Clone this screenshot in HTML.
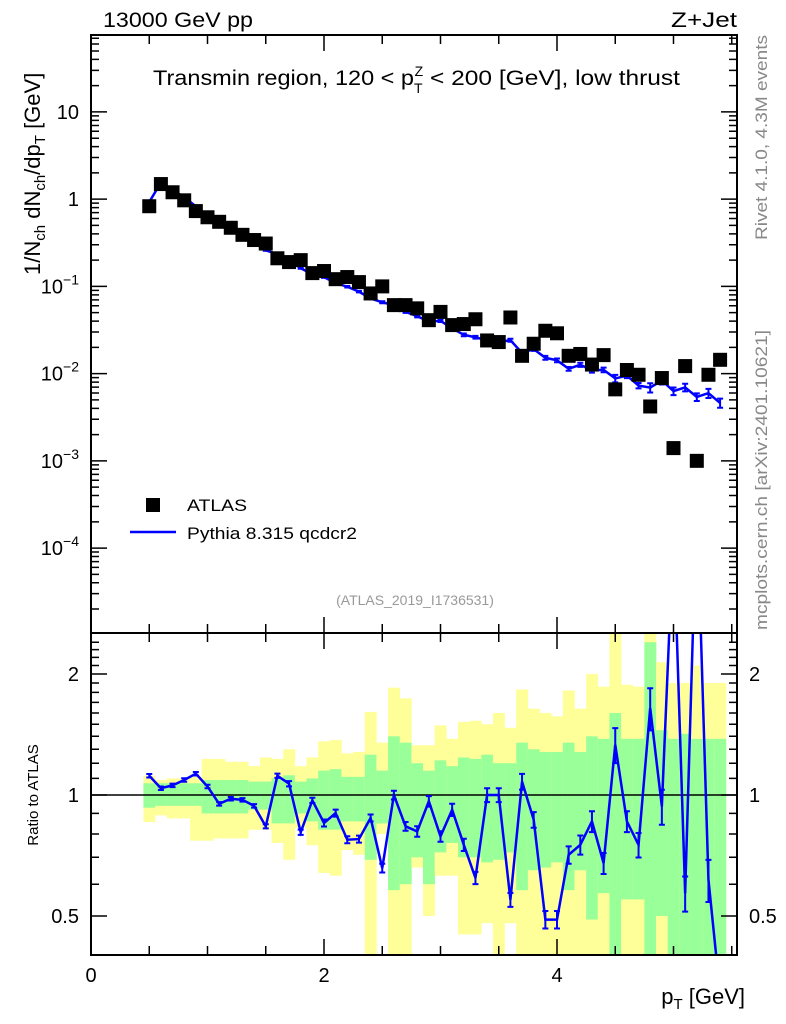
<!DOCTYPE html>
<html><head><meta charset="utf-8"><style>
html,body{margin:0;padding:0;background:#fff;}
svg{display:block;font-family:"Liberation Sans",Arial,sans-serif;}
</style></head><body>
<svg id="chart" width="786" height="1024" viewBox="0 0 786 1024" xmlns="http://www.w3.org/2000/svg">
<g id="bands"></g>
<g id="marks"></g>
<g id="axes"></g>
<text x="103" y="27" font-size="21" textLength="150" lengthAdjust="spacingAndGlyphs">13000 GeV pp</text>
<text x="671" y="27" font-size="21" textLength="66" lengthAdjust="spacingAndGlyphs">Z+Jet</text>
<text x="153" y="85" font-size="21"><tspan textLength="261" lengthAdjust="spacingAndGlyphs">Transmin region, 120 &lt; p</tspan><tspan font-size="14" dy="8">T</tspan><tspan font-size="14" dx="-8" dy="-17">Z</tspan><tspan dy="9" x="430" textLength="250" lengthAdjust="spacingAndGlyphs">&lt; 200 [GeV], low thrust</tspan></text>
<rect x="146" y="498" width="14" height="14" fill="#000"/>
<text x="187" y="511" font-size="17" textLength="60" lengthAdjust="spacingAndGlyphs">ATLAS</text>
<line x1="130" y1="532" x2="176" y2="532" stroke="#0000ff" stroke-width="2.5"/>
<text x="187" y="539" font-size="17" textLength="170" lengthAdjust="spacingAndGlyphs">Pythia 8.315 qcdcr2</text>
<text x="415" y="605" font-size="14" fill="#999" text-anchor="middle">(ATLAS_2019_I1736531)</text>
<text transform="translate(767,240) rotate(-90)" font-size="17" fill="#888" textLength="205" lengthAdjust="spacingAndGlyphs">Rivet 4.1.0,  4.3M events</text>
<text transform="translate(767,630) rotate(-90)" font-size="17" fill="#888" textLength="300" lengthAdjust="spacingAndGlyphs">mcplots.cern.ch [arXiv:2401.10621]</text>
<text transform="translate(40,275) rotate(-90)" font-size="22">1/N<tspan font-size="15" dy="5">ch</tspan><tspan dy="-5"> dN</tspan><tspan font-size="15" dy="5">ch</tspan><tspan dy="-5">/dp</tspan><tspan font-size="15" dy="5">T</tspan><tspan dy="-5"> [GeV]</tspan></text>
<text transform="translate(38,795) rotate(-90)" font-size="15" text-anchor="middle">Ratio to ATLAS</text>
<text x="745" y="1004" font-size="22" text-anchor="end">p<tspan font-size="15" dy="5">T</tspan><tspan dy="-5"> [GeV]</tspan></text>
</svg>
<script>
const xCenters=[0.5,0.6,0.7,0.8,0.9,1.0,1.1,1.2,1.3,1.4,1.5,1.6,1.7,1.8,1.9,2.0,2.1,2.2,2.3,2.4,2.5,2.6,2.7,2.8,2.9,3.0,3.1,3.2,3.3,3.4,3.5,3.6,3.7,3.8,3.9,4.0,4.1,4.2,4.3,4.4,4.5,4.6,4.7,4.8,4.9,5.0,5.1,5.2,5.3,5.4];
const atlasValues=[0.83,1.49,1.2,0.97,0.73,0.62,0.55,0.47,0.39,0.34,0.31,0.21,0.19,0.2,0.142,0.15,0.121,0.128,0.112,0.083,0.1,0.061,0.061,0.056,0.041,0.051,0.036,0.037,0.042,0.024,0.023,0.044,0.016,0.022,0.031,0.029,0.016,0.0168,0.0127,0.0163,0.0066,0.011,0.0097,0.0042,0.0089,0.0014,0.0122,0.001,0.0097,0.0144];
const ratioValues=[1.117,1.04,1.057,1.09,1.13,1.05,0.951,0.979,0.973,0.94,0.836,1.117,1.067,0.808,0.97,0.852,0.902,0.774,0.777,0.877,0.658,1.0,0.836,0.812,0.965,0.789,0.919,0.752,0.622,1.0,1.0,0.549,1.08,0.868,0.49,0.49,0.71,0.752,0.86,0.677,1.334,0.86,0.752,1.646,0.937,4.5,0.57,5.4,0.616,0.32];
const mcRelErr=[0.01,0.01,0.01,0.01,0.01,0.01,0.01,0.01,0.01,0.01,0.012,0.012,0.015,0.015,0.015,0.02,0.02,0.02,0.02,0.02,0.025,0.025,0.025,0.03,0.03,0.03,0.035,0.035,0.035,0.04,0.04,0.04,0.045,0.045,0.05,0.05,0.05,0.055,0.06,0.06,0.1,0.06,0.07,0.12,0.1,0.1,0.1,0.1,0.12,0.12];
const statUp=[1.07,1.07,1.07,1.07,1.07,1.09,1.09,1.09,1.09,1.08,1.08,1.1,1.12,1.08,1.1,1.15,1.16,1.11,1.11,1.26,1.15,1.4,1.35,1.2,1.15,1.22,1.18,1.24,1.23,1.26,1.2,1.2,1.35,1.3,1.28,1.28,1.35,1.28,1.4,1.38,1.6,1.38,1.38,2.4,1.45,1.38,1.42,1.38,1.38,1.38];
const statDn=[0.93,0.94,0.94,0.94,0.94,0.9,0.9,0.9,0.9,0.92,0.92,0.85,0.85,0.9,0.86,0.82,0.82,0.86,0.86,0.69,0.85,0.58,0.6,0.7,0.6,0.72,0.76,0.7,0.7,0.68,0.69,0.72,0.58,0.65,0.66,0.68,0.58,0.65,0.49,0.57,0.3,0.55,0.55,0.3,0.5,0.3,0.3,0.3,0.3,0.3];
const totUp=[1.117,1.09,1.1,1.1,1.11,1.23,1.23,1.21,1.21,1.18,1.24,1.23,1.3,1.18,1.24,1.36,1.37,1.27,1.28,1.61,1.35,1.85,1.74,1.33,1.33,1.49,1.38,1.52,1.53,1.5,1.6,1.47,1.83,1.64,1.6,1.57,1.82,1.64,2.0,1.86,2.6,1.88,1.86,2.6,2.14,1.9,1.9,2.1,1.9,1.9];
const totDn=[0.857,0.89,0.875,0.875,0.77,0.77,0.78,0.78,0.78,0.82,0.82,0.76,0.69,0.83,0.75,0.64,0.63,0.73,0.71,0.3,0.8,0.3,0.3,0.66,0.5,0.63,0.63,0.45,0.45,0.48,0.3,0.48,0.3,0.3,0.3,0.3,0.3,0.3,0.3,0.3,0.3,0.3,0.3,0.3,0.3,0.3,0.3,0.3,0.3,0.3];
const xTicksMajor=[0,2,4];
const yTickLabels=["10<sup>-4</sup>","10<sup>-3</sup>","10<sup>-2</sup>","10<sup>-1</sup>","1","10"];
const ratioTicks=[0.5,1,2];

const NS="http://www.w3.org/2000/svg";
const L=91,R=737,T=35,MID=633,B=955;
const X0=0,X1=(R-L)/116.5;
const sx=v=>L+(v-X0)/(X1-X0)*(R-L);
const LOGTOP=1+77/87.3, LOGBOT=-4-85/87.3;
const sy=v=>T+(LOGTOP-Math.log10(v))/(LOGTOP-LOGBOT)*(MID-T);
const RTOP=Math.log10(2.53), RBOT=Math.log10(0.40);
const ry=v=>MID+(RTOP-Math.log10(v))/(RTOP-RBOT)*(B-MID);
const cl=(y,a,b)=>Math.max(a,Math.min(b,y));
function mk(tag,attrs,parent){const e=document.createElementNS(NS,tag);for(const k in attrs)e.setAttribute(k,attrs[k]);parent.appendChild(e);return e;}
const bands=document.getElementById('bands'),marks=document.getElementById('marks'),axes=document.getElementById('axes');
const hw=0.05;
xCenters.forEach((x,i)=>{
  const x0=sx(x-hw),x1=sx(x+hw);
  const y1=cl(ry(totUp[i]),MID,B),y2=cl(ry(totDn[i]),MID,B);
  const r1=mk('rect',{x:x0,y:y1,width:x1-x0+0.3,height:y2-y1,fill:'#ffff99'},bands);
  
  
  const g1=cl(ry(statUp[i]),MID,B),g2=cl(ry(statDn[i]),MID,B);
  const r2=mk('rect',{x:x0,y:g1,width:x1-x0+0.3,height:g2-g1,fill:'#99ff99'},bands);
  
  
});
const one=mk('line',{x1:L,x2:R,y1:ry(1),y2:ry(1),stroke:'#000','stroke-width':1.5},marks);


const mcValues=atlasValues.map((v,i)=>v*ratioValues[i]);
const cp=document.createElementNS(NS,'clipPath');cp.setAttribute('id','ctop');mk('rect',{x:L,y:T,width:R-L,height:MID-T},cp);marks.appendChild(cp);
const cp2=document.createElementNS(NS,'clipPath');cp2.setAttribute('id','cbot');mk('rect',{x:L,y:MID,width:R-L,height:B-MID},cp2);marks.appendChild(cp2);
const topLine=mk('polyline',{points:xCenters.map((x,i)=>sx(x)+','+sy(mcValues[i])).join(' '),fill:'none',stroke:'#0000ff','stroke-width':2.5,'clip-path':'url(#ctop)'},marks);


xCenters.forEach((x,i)=>{
  const v=mcValues[i],e=mcRelErr[i]*v;
  const a=sy(v+e),b=sy(v-e),cx=sx(x);
  const eb=mk('path',{d:`M${cx},${a}V${b}M${cx-3},${a}H${cx+3}M${cx-3},${b}H${cx+3}`,stroke:'#0000ff','stroke-width':2,fill:'none'},marks);
  
  
});
xCenters.forEach((x,i)=>{
  const s=mk('rect',{x:sx(x)-7,y:sy(atlasValues[i])-7,width:14,height:14,fill:'#000'},marks);
  
  
});
const rl=mk('polyline',{points:xCenters.map((x,i)=>sx(x)+','+ry(ratioValues[i])).join(' '),fill:'none',stroke:'#0000ff','stroke-width':2.5,'clip-path':'url(#cbot)'},marks);


xCenters.forEach((x,i)=>{
  const v=ratioValues[i],e=mcRelErr[i]*v;
  const a=ry(v+e),b=ry(v-e),cx=sx(x);
  if(a<MID||b>B)return;
  const eb=mk('path',{d:`M${cx},${a}V${b}M${cx-3},${a}H${cx+3}M${cx-3},${b}H${cx+3}`,stroke:'#0000ff','stroke-width':2,fill:'none'},marks);
  
  
});
[[T,MID],[MID,B]].forEach(([a,b])=>{
  const f=mk('rect',{x:L,y:a,width:R-L,height:b-a,fill:'none',stroke:'#000','stroke-width':2},axes);
  
  
});
let d='';
for(let v=0;v<=X1;v+=0.5){
  const x=sx(v),len=(Math.abs(v/2-Math.round(v/2))<1e-6)?16:9;
  d+=`M${x},${T}v${len}M${x},${MID}v-${len}M${x},${MID}v${len}M${x},${B}v-${len}`;
}
for(let dec=-5;dec<=1;dec++){
  for(let m=1;m<10;m++){
    const v=m*Math.pow(10,dec),y=sy(v);
    if(y<T||y>MID)continue;
    const len=m===1?16:8;
    d+=`M${L},${y}h${len}M${R},${y}h-${len}`;
  }
}
for(let v=0.4;v<=2.5;v+=0.1){
  const y=ry(v);if(y<MID||y>B)continue;
  const major=ratioTicks.some(t=>Math.abs(t-v)<1e-6);
  const len=major?16:8;
  d+=`M${L},${y}h${len}M${R},${y}h-${len}`;
}
const tk=mk('path',{d:d,stroke:'#000','stroke-width':1.5,fill:'none'},axes);


xTicksMajor.forEach(v=>{
  const t=mk('text',{x:sx(v),y:982,'font-size':20,'text-anchor':'middle'},axes);t.textContent=v;
  
  
});
yTickLabels.forEach((lab,i)=>{
  const dec=i-4,y=sy(Math.pow(10,dec));
  const t=mk('text',{x:79,y:y+7,'font-size':20,'text-anchor':'end'},axes);
  if(dec<0){t.textContent='10';const s=mk('tspan',{'font-size':14,dy:-9},t);s.textContent=String(dec).replace('-','\u2212');}
  else t.textContent=String(Math.pow(10,dec));
  
  
});
ratioTicks.forEach(v=>{
  const y=ry(v);
  const t=mk('text',{x:79,y:y+7,'font-size':20,'text-anchor':'end'},axes);t.textContent=v;
  
  
  const t2=mk('text',{x:749,y:y+7,'font-size':20},axes);t2.textContent=v;
  
  
});
</script>
</body></html>
